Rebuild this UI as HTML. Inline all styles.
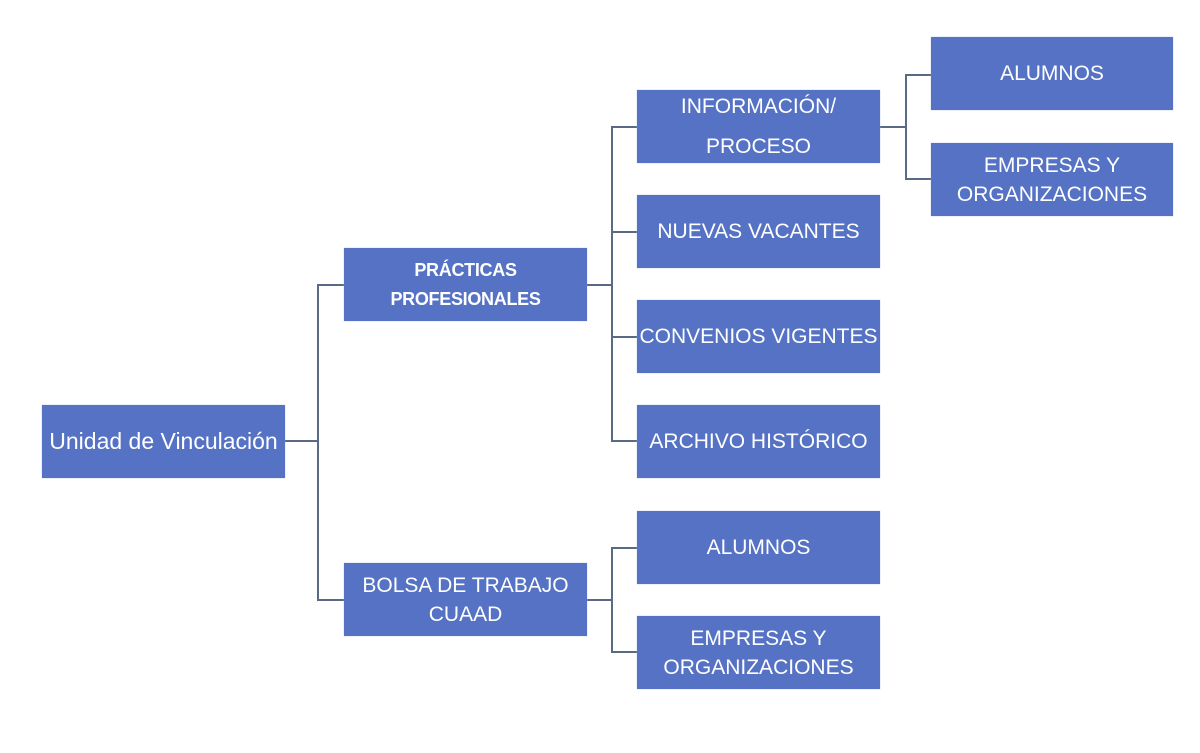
<!DOCTYPE html>
<html><head><meta charset="utf-8"><style>
html,body{margin:0;padding:0;background:#fff;width:1200px;height:753px;overflow:hidden;position:relative;font-family:"Liberation Sans",sans-serif}
.b{position:absolute;background:#5572c4;color:#fff;display:flex;align-items:center;justify-content:center;text-align:center;font-size:21px;line-height:29px;box-shadow:0 0 1px #9fb0dd;white-space:nowrap}
.l{position:absolute;background:#5b6a84}
</style></head><body>
<div class="l" style="left:285px;top:440px;width:34px;height:2px"></div>
<div class="l" style="left:317px;top:284px;width:2px;height:317px"></div>
<div class="l" style="left:317px;top:284px;width:27px;height:2px"></div>
<div class="l" style="left:317px;top:599px;width:27px;height:2px"></div>

<div class="l" style="left:587px;top:284px;width:26px;height:2px"></div>
<div class="l" style="left:611px;top:126px;width:2px;height:316px"></div>
<div class="l" style="left:611px;top:126px;width:26px;height:2px"></div>
<div class="l" style="left:611px;top:231px;width:26px;height:2px"></div>
<div class="l" style="left:611px;top:336px;width:26px;height:2px"></div>
<div class="l" style="left:611px;top:440px;width:26px;height:2px"></div>

<div class="l" style="left:587px;top:599px;width:26px;height:2px"></div>
<div class="l" style="left:611px;top:547px;width:2px;height:106px"></div>
<div class="l" style="left:611px;top:547px;width:26px;height:2px"></div>
<div class="l" style="left:611px;top:651px;width:26px;height:2px"></div>

<div class="l" style="left:880px;top:126px;width:27px;height:2px"></div>
<div class="l" style="left:905px;top:74px;width:2px;height:106px"></div>
<div class="l" style="left:905px;top:74px;width:26px;height:2px"></div>
<div class="l" style="left:905px;top:178px;width:26px;height:2px"></div>

<div class="b" style="left:42px;top:405px;width:243px;height:73px;font-size:23px">Unidad de Vinculación</div>
<div class="b" style="left:344px;top:248px;width:243px;height:73px;font-weight:bold;font-size:18px;letter-spacing:-0.3px">PRÁCTICAS<br>PROFESIONALES</div>
<div class="b" style="left:344px;top:563px;width:243px;height:73px">BOLSA DE TRABAJO<br>CUAAD</div>

<div class="b" style="left:637px;top:90px;width:243px;height:73px;line-height:40px">INFORMACIÓN/<br>PROCESO</div>
<div class="b" style="left:637px;top:195px;width:243px;height:73px">NUEVAS VACANTES</div>
<div class="b" style="left:637px;top:300px;width:243px;height:73px">CONVENIOS VIGENTES</div>
<div class="b" style="left:637px;top:405px;width:243px;height:73px">ARCHIVO HISTÓRICO</div>
<div class="b" style="left:637px;top:511px;width:243px;height:73px">ALUMNOS</div>
<div class="b" style="left:637px;top:616px;width:243px;height:73px">EMPRESAS Y<br>ORGANIZACIONES</div>

<div class="b" style="left:931px;top:37px;width:242px;height:73px">ALUMNOS</div>
<div class="b" style="left:931px;top:143px;width:242px;height:73px">EMPRESAS Y<br>ORGANIZACIONES</div>
</body></html>
